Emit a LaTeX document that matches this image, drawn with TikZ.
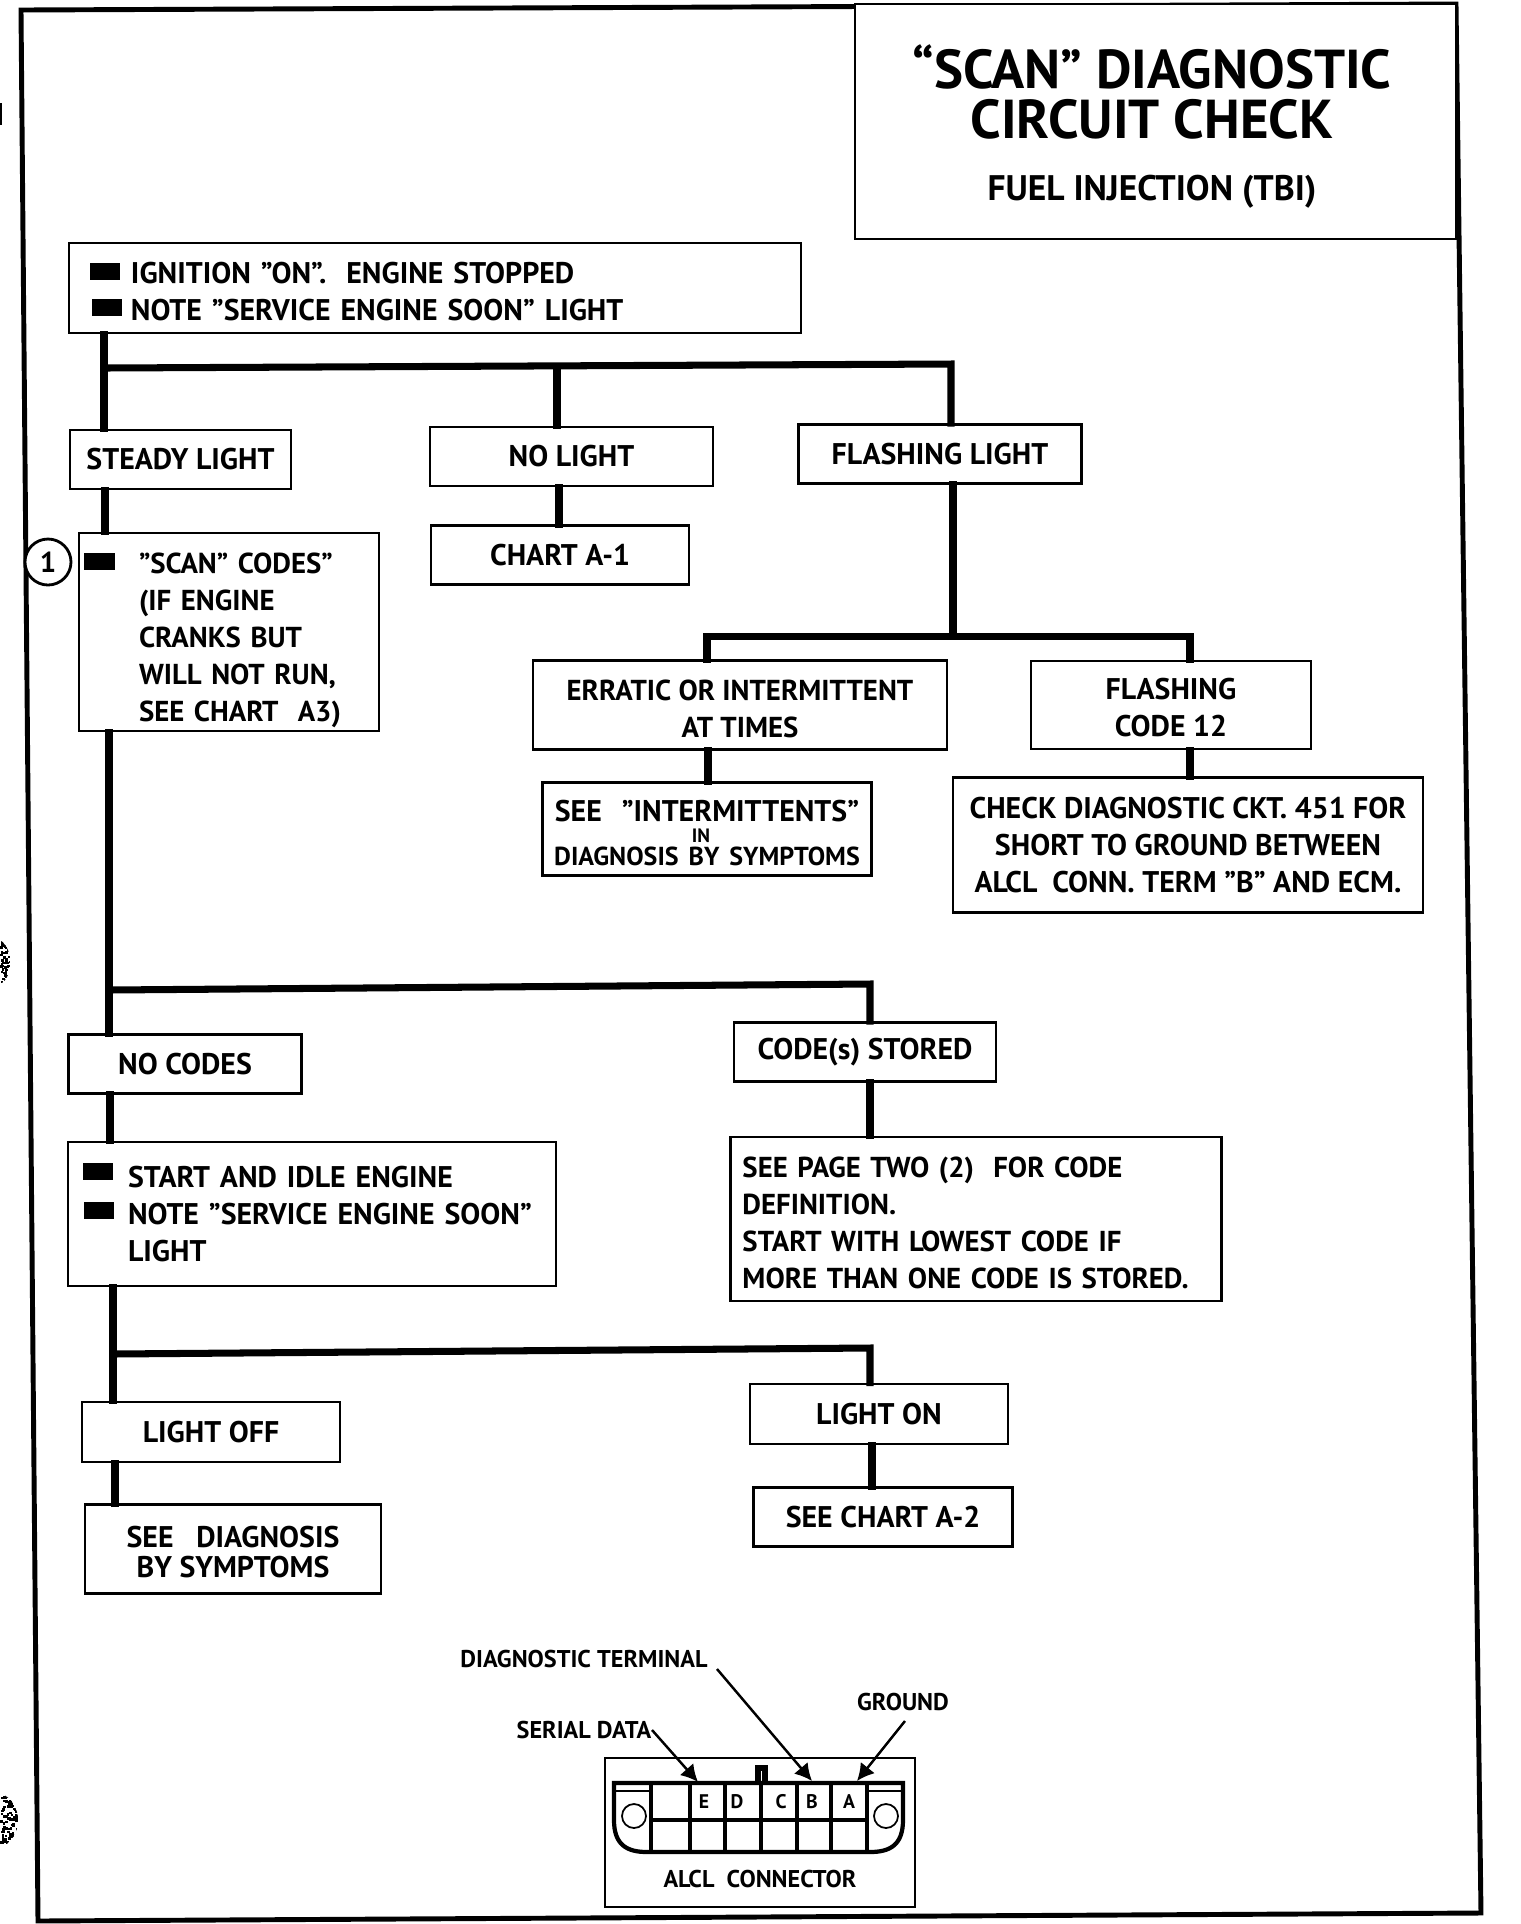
\documentclass[tikz,border=0pt]{standalone}
\usepackage{fontspec}
\setmainfont{PT Sans}
\usetikzlibrary{arrows.meta}

\tikzset{
    box/.style={draw, line width=.8pt, fill=white, align=center, inner sep=0pt, font=\bfseries\fontsize{8.5}{10.5}\selectfont},
    tight/.style={font=\bfseries\fontsize{8.2}{10.5}\selectfont},
    wire/.style={line width=2pt, line cap=rect},
    bullet/.style={fill=black, inner sep=0pt, minimum width=.3cm, minimum height=.17cm},
    pin/.style={font=\bfseries\fontsize{5.6}{7}\selectfont, inner sep=0pt},
    caption/.style={font=\bfseries\fontsize{6.9}{8}\selectfont, inner sep=0pt},
    pointer/.style={line width=.7pt, -{Latex[length=1.7mm,width=1.8mm]}},
    shell/.style={line width=1.2pt}
}
\newcommand{\ind}[1]{\hspace*{#1cm}}
\newcommand{\down}[1]{\rule{0pt}{\dimexpr6.5pt+#1pt\relax}}

\begin{document}
\begin{tikzpicture}[x=1cm,y=-1cm]

    % Fix the page
    \useasboundingbox (0,0) rectangle (15.2,19.24);

    % Punch marks at the edge
    \pgfmathsetseed{7}
    \begin{scope}
        \clip (0,9.4) .. controls (.14,9.5) and (.14,9.75) .. (0,9.85) -- cycle;
        \foreach \i in {1,...,70}
            \fill ({.12*rnd},{9.4+.45*rnd}) rectangle ++(.025,.025);
    \end{scope}
    \begin{scope}
        \clip (0,17.93) .. controls (.24,18.02) and (.24,18.38) .. (0,18.48) -- cycle;
        \foreach \i in {1,...,110}
            \fill ({.17*rnd},{17.93+.55*rnd}) rectangle ++(.025,.025);
    \end{scope}
    \fill (0,1.03) rectangle (.02,1.25);

    % Outer frame
    \draw[line width=1.4pt] (.21,.10) -- (14.56,.04) -- (14.81,19.13) -- (.38,19.21) -- cycle;

    % Title
    \node[box, minimum width=6.01cm, minimum height=2.35cm] (title) at (11.555,1.215) {};
    \node[font=\bfseries\fontsize{15.6}{14}\selectfont, align=center, inner sep=0pt] (heading) at (11.52,.92) {“SCAN” DIAGNOSTIC\\CIRCUIT CHECK};
    \node[font=\bfseries\fontsize{10.1}{12}\selectfont, inner sep=0pt] (subhead) at (11.52,1.92) {FUEL INJECTION (TBI)};

    % Boxes, top part
    \node[box, minimum width=7.32cm, minimum height=.9cm, text width=7.32cm, align=left] (ignition) at (4.35,2.88)
        {\down{1.8}\ind{.62}IGNITION "ON".\ \ ENGINE STOPPED\\\ind{.62}NOTE "SERVICE ENGINE SOON" LIGHT};
    \node[box, minimum width=2.21cm, minimum height=.59cm] (steady) at (1.805,4.595) {STEADY LIGHT};
    \node[box, minimum width=2.83cm, minimum height=.59cm] (nolight) at (5.715,4.565) {NO LIGHT};
    \node[box, minimum width=2.83cm, minimum height=.59cm] (flashing) at (9.4,4.54) {FLASHING LIGHT};
    \node[box, minimum width=2.58cm, minimum height=.59cm] (charta1) at (5.6,5.55) {CHART A-1};
    \node[box, tight, minimum width=3cm, minimum height=1.98cm, text width=3cm, align=left] (scan) at (2.29,6.32)
        {\down{4.2}\ind{.6}"SCAN" CODES"\\\ind{.6}(IF ENGINE\\\ind{.6}CRANKS BUT\\\ind{.6}WILL NOT RUN,\\\ind{.6}SEE CHART\ \ A3)};
    \node[box, tight, minimum width=4.14cm, minimum height=.89cm] (erratic) at (7.4,7.05)
        {\down{1.8}ERRATIC OR INTERMITTENT\\AT TIMES};
    \node[box, minimum width=2.8cm, minimum height=.88cm] (code12) at (11.71,7.05)
        {\down{1}FLASHING\\CODE 12};
    \node[box, minimum width=3.29cm, minimum height=.93cm, text width=3.29cm] (intermit) at (7.07,8.29)
        {\down{2}SEE\ \ "INTERMITTENTS"\\[-4.8pt]\hspace*{-.12cm}{\fontsize{5.5}{6}\selectfont IN}\\[-3.8pt]{\fontsize{7.4}{8}\selectfont DIAGNOSIS BY SYMPTOMS}};
    \node[box, minimum width=4.7cm, minimum height=1.35cm] (check) at (11.88,8.45)
        {CHECK DIAGNOSTIC CKT. 451 FOR\\SHORT TO GROUND BETWEEN\\ALCL\ \ CONN. TERM "B" AND ECM.};

    % Boxes, lower part
    \node[box, minimum width=2.33cm, minimum height=.59cm] (nocodes) at (1.85,10.64) {NO CODES};
    \node[box, minimum width=2.62cm, minimum height=.59cm] (stored) at (8.65,10.52) {CODE(s) STORED};
    \node[box, minimum width=4.88cm, minimum height=1.44cm, text width=4.88cm, align=left] (idle) at (3.12,12.14)
        {\ind{.6}START AND IDLE ENGINE\\\ind{.6}NOTE "SERVICE ENGINE SOON"\\\ind{.6}LIGHT\par\vspace{3.5pt}};
    \node[box, tight, minimum width=4.91cm, minimum height=1.64cm, text width=4.91cm, align=left] (pagetwo) at (9.76,12.19)
        {\down{1.4}\ind{.12}SEE PAGE TWO (2)\ \ FOR CODE\\\ind{.12}DEFINITION.\\\ind{.12}START WITH LOWEST CODE IF\\\ind{.12}MORE THAN ONE CODE IS STORED.};
    \node[box, minimum width=2.58cm, minimum height=.6cm] (lightoff) at (2.11,14.32) {LIGHT OFF};
    \node[box, minimum width=2.58cm, minimum height=.6cm] (lighton) at (8.79,14.14) {LIGHT ON};
    \node[box, minimum width=2.96cm, minimum height=.89cm] (seediag) at (2.33,15.49) {\down{1.4}SEE\ \ \ DIAGNOSIS\\[-2.1pt]BY SYMPTOMS};
    \node[box, minimum width=2.59cm, minimum height=.59cm] (charta2) at (8.83,15.17) {SEE CHART A-2};

    % Bullets and the circled step
    \node[bullet] (b1) at (1.045,2.715) {};
    \node[bullet] (b2) at (1.07,3.07) {};
    \node[bullet] (b3) at (.995,5.61) {};
    \node[bullet] (b4) at (.975,11.715) {};
    \node[bullet] (b5) at (.985,12.105) {};
    \node[draw, circle, line width=.8pt, fill=white, minimum size=.46cm, inner sep=0pt, font=\bfseries\fontsize{8.2}{10}\selectfont] (step1) at (.48,5.62) {1};

    % Junctions of the wires
    \coordinate (busA) at (1.04,3.68);
    \coordinate (busB) at (9.51,3.64);
    \coordinate (splitF) at (9.53,6.36);
    \coordinate (busC) at (1.09,9.9);
    \coordinate (busD) at (8.7,9.84);
    \coordinate (busE) at (1.13,13.54);
    \coordinate (busF) at (8.7,13.48);

    % Wires
    \draw[wire] (ignition.south -| busA) -- (steady.north -| busA);
    \draw[wire] (busA) -- (busB) -- (flashing.north -| busB);
    \draw[wire] (5.57,3.66) -- (nolight.north -| 5.57,0);
    \draw[wire] (nolight.south -| 5.59,0) -- (charta1.north -| 5.59,0);
    \draw[wire] (steady.south -| 1.05,0) -- (scan.north -| 1.05,0);
    \draw[wire] (flashing.south -| splitF) -- (splitF);
    \draw[wire] (erratic.north -| 7.07,0) |- (splitF) -| (code12.north -| 11.9,0);
    \draw[wire] (erratic.south -| 7.08,0) -- (intermit.north -| 7.08,0);
    \draw[wire] (code12.south -| 11.9,0) -- (check.north -| 11.9,0);
    \draw[wire] (scan.south -| busC) -- (nocodes.north -| busC);
    \draw[wire] (busC) -- (busD) -- (stored.north -| busD);
    \draw[wire] (stored.south -| busD) -- (pagetwo.north -| busD);
    \draw[wire] (nocodes.south -| 1.1,0) -- (idle.north -| 1.1,0);
    \draw[wire] (idle.south -| busE) -- (lightoff.north -| busE);
    \draw[wire] (busE) -- (busF) -- (lighton.north -| busF);
    \draw[wire] (lightoff.south -| 1.15,0) -- (seediag.north -| 1.15,0);
    \draw[wire] (lighton.south -| 8.72,0) -- (charta2.north -| 8.72,0);

    % ALCL connector
    \node[draw, line width=.8pt, minimum width=3.1cm, minimum height=1.49cm] (alcl) at (7.6,18.325) {};
    \node[caption] (alcltext) at (7.6,18.79) {ALCL\ \ CONNECTOR};
    \draw[shell] (6.14,17.83) -- (9.03,17.83) -- (9.03,18.2) .. controls (9.03,18.45) and (8.9,18.52) .. (8.7,18.52)
        -- (6.47,18.52) .. controls (6.27,18.52) and (6.14,18.45) .. (6.14,18.2) -- cycle;
    \draw[shell] (6.51,18.2) -- (8.67,18.2);
    \foreach \pinx in {6.51,6.9,7.25,7.61,7.97,8.31,8.67}
        \draw[shell] (\pinx,17.83) -- (\pinx,18.52);
    \draw[line width=.4pt] (6.14,17.91) -- (6.51,17.91) (8.67,17.91) -- (9.03,17.91);
    \draw[line width=.5pt] (6.34,18.16) circle (.12);
    \draw[line width=.5pt] (8.86,18.16) circle (.12);
    \draw[line width=1.5pt] (7.58,17.83) -- (7.58,17.68) -- (7.65,17.68) -- (7.65,17.83);
    \node[pin] (pinE) at (7.04,18.02) {E};
    \node[pin] (pinD) at (7.37,18.02) {D};
    \node[pin] (pinC) at (7.81,18.02) {C};
    \node[pin] (pinB) at (8.12,18.02) {B};
    \node[pin] (pinA) at (8.49,18.02) {A};

    % Pointers
    \node[caption] (serial) at (5.84,17.3) {SERIAL DATA};
    \node[caption] (diagterm) at (5.84,16.59) {DIAGNOSTIC TERMINAL};
    \node[caption] (ground) at (9.03,17.02) {GROUND};
    \coordinate (tipE) at (6.98,17.82);
    \coordinate (tipB) at (8.12,17.81);
    \coordinate (tipA) at (8.57,17.81);
    \coordinate (startT) at (7.17,16.69);
    \coordinate (startG) at (9.05,17.21);
    \draw[pointer] (serial.east) -- (tipE);
    \draw[pointer] (startT) -- (tipB);
    \draw[pointer] (startG) -- (tipA);

\end{tikzpicture}
\end{document}
